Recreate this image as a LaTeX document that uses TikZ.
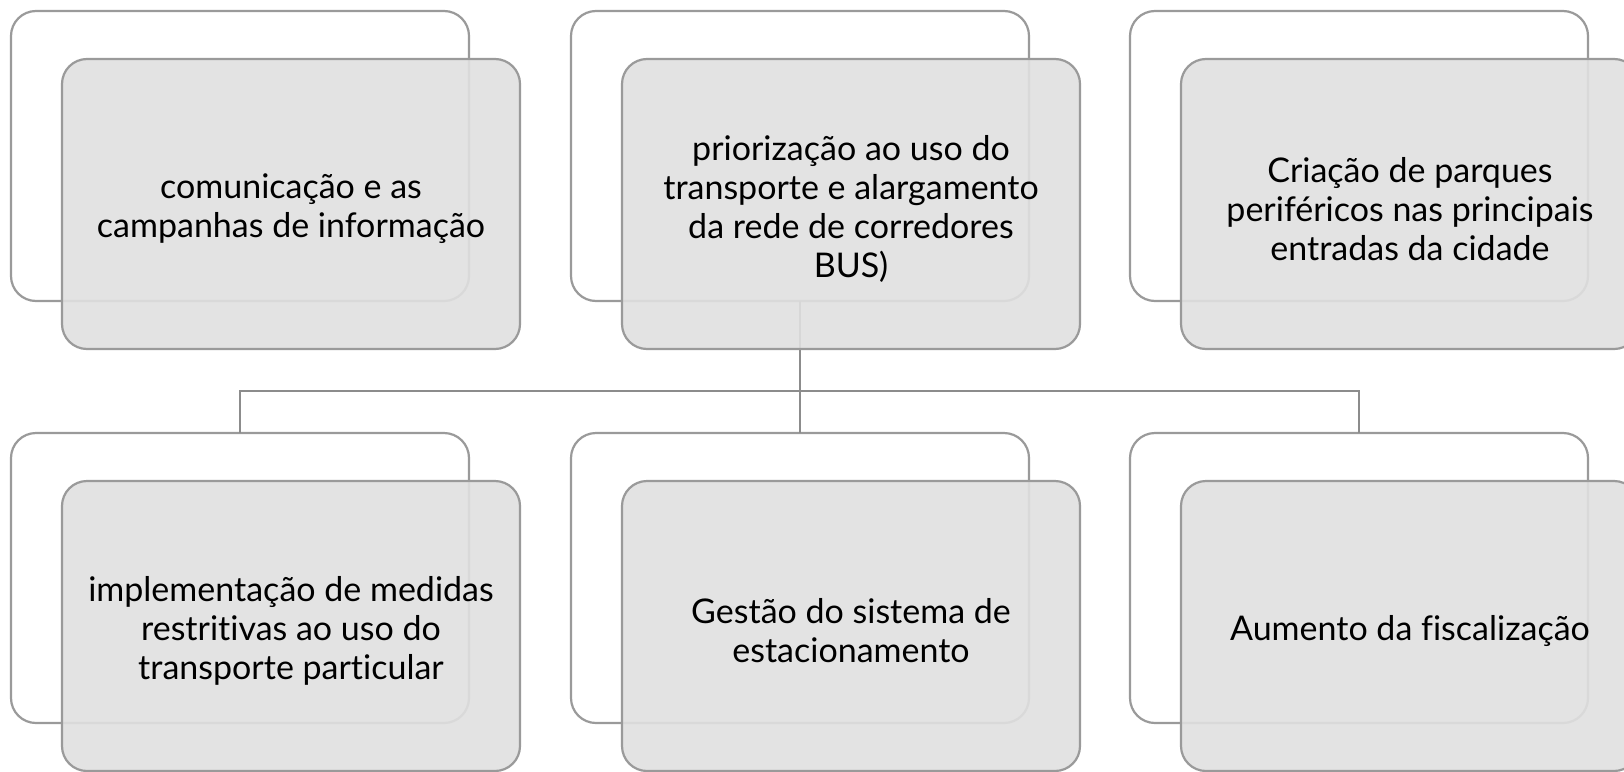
\documentclass[tikz,border=0pt]{standalone}
\usepackage{fontspec}
\setmainfont{Lato}[Ligatures=NoCommon]
\definecolor{edgegray}{HTML}{9A9A9A}
\definecolor{conngray}{HTML}{8C8C8C}
\definecolor{frontfill}{HTML}{E0E0E0}
\begin{document}
\begin{tikzpicture}[x=1pt,y=-1pt,
  backbox/.style={draw=edgegray, line width=2.2pt, rounded corners=25pt, fill=white,
    minimum width=458pt, minimum height=290pt, inner sep=0pt, outer sep=0pt, anchor=north west},
  frontbox/.style={draw=edgegray, line width=2.2pt, rounded corners=25pt, fill=frontfill,
    fill opacity=0.9, minimum width=458pt, minimum height=290pt,
    inner sep=0pt, outer sep=0pt, anchor=north west},
  boxtext/.style={align=center, inner sep=0pt, font=\fontsize{34}{39}\selectfont},
  connector/.style={draw=conngray, line width=2.2pt}]
\useasboundingbox (0,0) rectangle (1624,771);
\clip (0,0) rectangle (1624,771);
\fill[white] (0,0) rectangle (1624,771);
% back boxes
\node[backbox] (b1) at (11,11) {};
\node[backbox] (b2) at (571,11) {};
\node[backbox] (b3) at (1130,11) {};
\node[backbox] (b4) at (11,433) {};
\node[backbox] (b5) at (571,433) {};
\node[backbox] (b6) at (1130,433) {};
% connectors
\coordinate (hub) at (800,391);
\draw[connector] (b2.south) -- (hub);
\draw[connector] (hub) -| (b4.north);
\draw[connector] (hub) -- (b5.north);
\draw[connector] (hub) -| (b6.north);
% front boxes
\node[frontbox] (f1) at (62,59) {};
\node[frontbox] (f2) at (622,59) {};
\node[frontbox] (f3) at (1181,59) {};
\node[frontbox] (f4) at (62,481) {};
\node[frontbox] (f5) at (622,481) {};
\node[frontbox] (f6) at (1181,481) {};
% texts
\node[boxtext] (t1) at ([yshift=-5pt]f1.center) {comunicação e as\\campanhas de informação};
\node[boxtext] (t2) at ([yshift=-5pt]f2.center) {priorização ao uso do\\transporte e alargamento\\da rede de corredores\\BUS)};
\node[boxtext] (t3) at ([yshift=-5pt]f3.center) {Criação de parques\\periféricos nas principais\\entradas da cidade};
\node[boxtext] (t4) at ([yshift=-5pt]f4.center) {implementação de medidas\\restritivas ao uso do\\transporte particular};
\node[boxtext] (t5) at ([yshift=-5pt]f5.center) {Gestão do sistema de\\estacionamento};
\node[boxtext] (t6) at ([yshift=-5pt]f6.center) {Aumento da fiscalização};
\end{tikzpicture}
\end{document}
